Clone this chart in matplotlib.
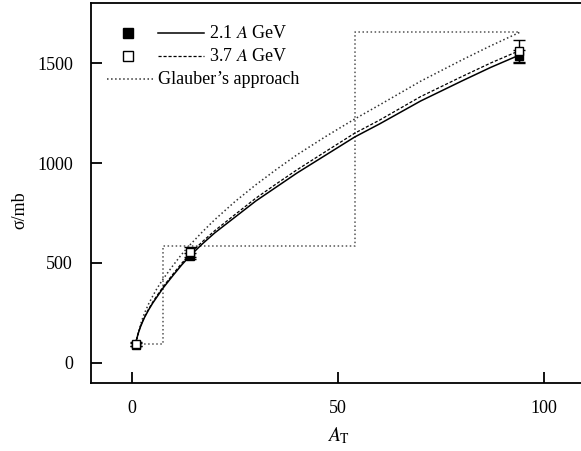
import matplotlib
matplotlib.use("Agg")
import matplotlib.pyplot as plt
from matplotlib.lines import Line2D

plt.rcParams['font.family'] = ['Liberation Serif', 'DejaVu Serif']
plt.rcParams['mathtext.fontset'] = 'stix'

# Measured cross sections for the three target groups
target_A = [1, 14, 94]
sigma_21 = [92, 533, 1533]
err_21 = [8, 15, 30]
sigma_37 = [95, 553, 1558]
err_37 = [8, 25, 59]

# Fitted curves (A_T, sigma)
fit_A = [1, 1.25, 1.5, 2, 2.5, 3, 4, 5, 6, 7.5, 10, 12, 14, 17, 20, 25, 30, 35,
         40, 47, 54, 60, 70, 80, 87, 94]
fit_21 = [112, 132, 150, 180, 205, 228, 266, 300, 330, 375, 440, 490, 535, 595,
          650, 730, 810, 880, 950, 1040, 1130, 1195, 1310, 1410, 1478, 1540]
fit_37 = [114, 134, 152, 183, 208, 231, 270, 305, 336, 381, 447, 498, 545, 606,
          661, 743, 824, 896, 966, 1058, 1149, 1214, 1332, 1432, 1500, 1562]

# Glauber calculation: smooth curve and group-averaged steps
glauber_A = [1, 1.25, 1.5, 2, 2.5, 3, 4, 5, 6, 7.5, 10, 12, 14, 17, 20, 25, 30,
             35, 40, 47, 54, 60, 70, 80, 87, 94]
glauber_sigma = [100, 127, 150, 190, 222, 250, 296, 335, 372, 420, 490, 543, 590,
                 655, 716, 808, 891, 968, 1041, 1133, 1220, 1290, 1409, 1515,
                 1586, 1653]
step_edges = [1, 7.5, 54, 94]
step_sigma = [95, 583, 1653]

fig = plt.figure(figsize=(5.81, 4.51), dpi=100)
ax = fig.add_axes([0.1566, 0.1508, 0.8510, 0.8425])

# Glauber step histogram
sx, sy = [], []
for i, v in enumerate(step_sigma):
    sx += [step_edges[i], step_edges[i + 1]]
    sy += [v, v]
ax.plot(sx, sy, ls=':', color='#555555', lw=1.1)
ax.plot(glauber_A, glauber_sigma, ls=':', color='#333333', lw=1.1)

ax.plot(fit_A, fit_21, '-', color='black', lw=1.1)
ax.plot(fit_A, fit_37, '--', color='black', lw=0.9, dashes=(2.5, 1.5))

ax.errorbar(target_A, sigma_21, yerr=err_21, fmt='s', color='black', ms=6,
            mfc='black', mec='black', capsize=4, elinewidth=1.0, capthick=1.0, zorder=5)
ax.errorbar(target_A, sigma_37, yerr=err_37, fmt='s', color='black', ms=6,
            mfc='white', mec='black', mew=1.0, capsize=4, elinewidth=1.0,
            capthick=1.0, zorder=6)

ax.set_xlim(-10, 110)
ax.set_ylim(-100, 1800)
ax.set_xticks([0, 50, 100])
ax.set_yticks([0, 500, 1000, 1500])
ax.tick_params(direction='in', length=8, width=1.3, labelsize=13)
ax.tick_params(axis='y', pad=13)
ax.tick_params(axis='x', pad=12)
for s in ax.spines.values():
    s.set_linewidth(1.3)

ax.set_xlabel(r'$A_{\mathrm{T}}$', fontsize=14, labelpad=6)
ax.set_ylabel('\u03c3/mb', fontsize=13)
ax.yaxis.set_label_coords(-0.126, 0.456)

# Legend drawn by hand
T = ax.transAxes
rows_y = [0.920, 0.860, 0.800]
ax.add_line(Line2D([0.075], [rows_y[0]], marker='s', ms=7, mfc='black', mec='black',
                   transform=T, ls='none'))
ax.add_line(Line2D([0.075], [rows_y[1]], marker='s', ms=7, mfc='white', mec='black',
                   mew=1.0, transform=T, ls='none'))
ax.add_line(Line2D([0.136, 0.229], [rows_y[0]] * 2, color='black', lw=1.1, transform=T))
ax.add_line(Line2D([0.136, 0.229], [rows_y[1]] * 2, color='black', lw=0.9,
                   ls='--', dashes=(2.5, 1.5), transform=T))
ax.add_line(Line2D([0.033, 0.125], [rows_y[2]] * 2, color='#333333', lw=1.1, ls=':',
                   transform=T))
ax.text(0.238, rows_y[0], r'2.1 $A$ GeV', transform=T, va='center', fontsize=13)
ax.text(0.238, rows_y[1], r'3.7 $A$ GeV', transform=T, va='center', fontsize=13)
ax.text(0.136, rows_y[2], 'Glauber\u2019s approach', transform=T, va='center', fontsize=13)

fig.savefig('out.png', dpi=100)
